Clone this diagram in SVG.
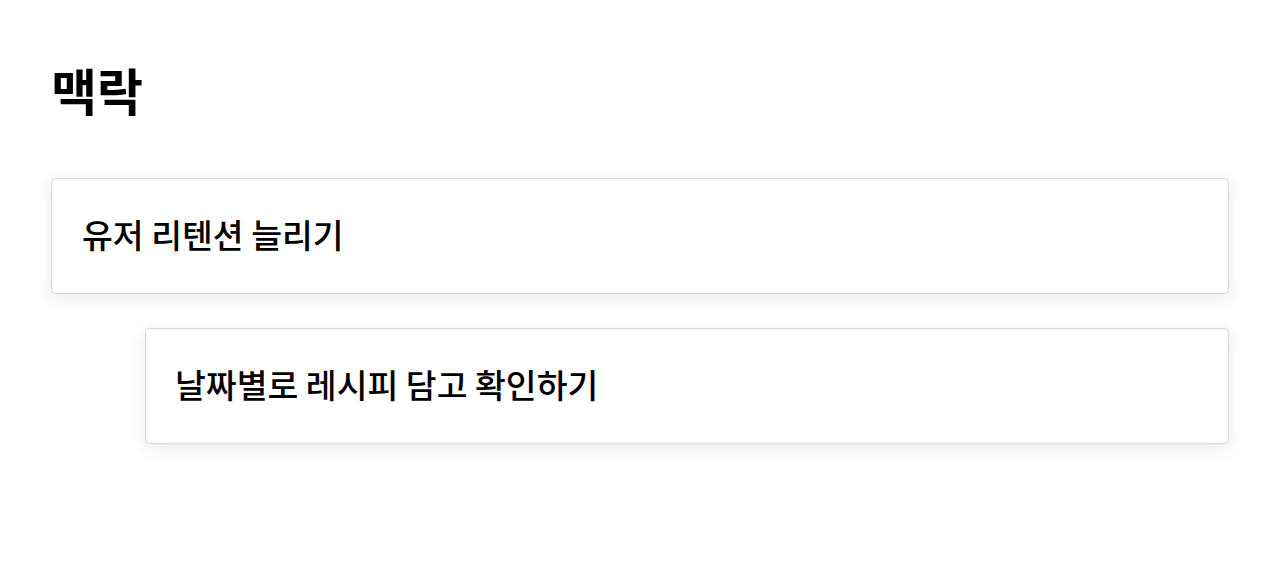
<svg xmlns="http://www.w3.org/2000/svg" width="1280" height="564" viewBox="0 0 1280 564">
<style>
.card{fill:#ffffff;stroke:#d6d6d6;stroke-width:1}
.t{font-family:"Noto Sans CJK KR","Noto Sans",sans-serif;fill:#000000}
.title{font-size:50px;font-weight:700}
.lbl{font-size:33.5px;font-weight:500}
</style>
<defs>
<filter id="sh" x="-5%" y="-40%" width="110%" height="180%">
<feDropShadow dx="0" dy="4" stdDeviation="8" flood-color="#000" flood-opacity="0.08"/>
</filter>
</defs>
<rect width="1280" height="564" fill="#ffffff"/>
<text class="t title" x="51" y="111">맥락</text>
<g id="node1">
<rect class="card" x="51.5" y="178.5" width="1177" height="115" rx="4" filter="url(#sh)"/>
<text class="t lbl" x="82" y="248">유저 리텐션 늘리기</text>
</g>
<g id="node2">
<rect class="card" x="145.5" y="328.5" width="1083" height="115" rx="4" filter="url(#sh)"/>
<text class="t lbl" x="175" y="398">날짜별로 레시피 담고 확인하기</text>
</g>
<g id="connectors"></g>
</svg>
